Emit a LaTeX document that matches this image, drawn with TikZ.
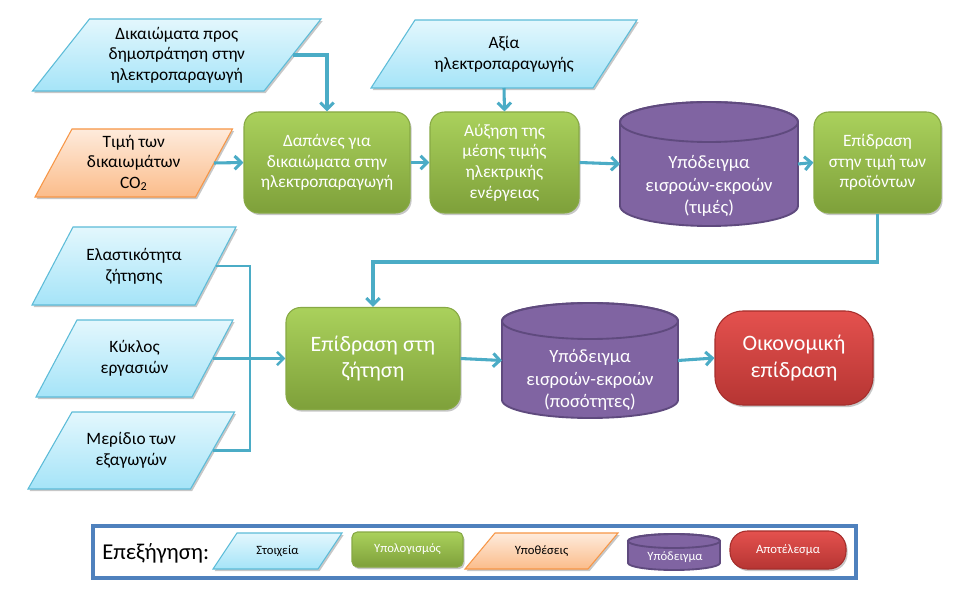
\documentclass[tikz,border=0pt]{standalone}
\usepackage{fontspec}
\setmainfont{Carlito}
\usetikzlibrary{arrows.meta,shadows,backgrounds}
\definecolor{connC}{HTML}{4BACC6}
\definecolor{paTop}{HTML}{E3F7FD}
\definecolor{paBot}{HTML}{A5E4F8}
\definecolor{paLine}{HTML}{5DBCD8}
\definecolor{orTop}{HTML}{FEEBDC}
\definecolor{orBot}{HTML}{FBBC8A}
\definecolor{orLine}{HTML}{F79646}
\definecolor{grTop}{HTML}{AAD15C}
\definecolor{grBot}{HTML}{7EA03A}
\definecolor{grLine}{HTML}{87A944}
\definecolor{cyFill}{HTML}{8064A2}
\definecolor{cyLine}{HTML}{5F4A7E}
\definecolor{rdTop}{HTML}{E4514E}
\definecolor{rdBot}{HTML}{B63533}
\definecolor{rdLine}{HTML}{A52E2C}
\definecolor{legLine}{HTML}{4F81BD}
\tikzset{
  conn/.style={draw=connC, line width=2.3pt},
  connL/.style={draw=connC, line width=1.9pt},
  arr/.style={-{Straight Barb[length=5pt,width=10pt]}},
  shad/.style={drop shadow={shadow xshift=1.2pt, shadow yshift=-1.6pt, opacity=0.22, fill=black}},
  blueP/.style={top color=paTop, bottom color=paBot, draw=paLine, line width=0.8pt, shad},
  oranP/.style={top color=orTop, bottom color=orBot, draw=orLine, line width=0.8pt, shad},
  ptxt/.style={font=\fontsize{13}{15.5}\selectfont, text=black},
  ltxt/.style={font=\fontsize{9.5}{11}\selectfont},
  gbox/.style={rectangle, rounded corners=11pt, draw=grLine, line width=0.8pt, top color=grTop, bottom color=grBot, text=white, align=center, inner sep=2pt, shad, font=\fontsize{13}{15.5}\selectfont},
  rbox/.style={rectangle, rounded corners=21pt, draw=rdLine, line width=0.8pt, top color=rdTop, bottom color=rdBot, text=white, align=center, inner sep=2pt, shad, font=\fontsize{16.5}{20}\selectfont},
  cylS/.style={fill=cyFill, draw=cyLine, line width=1.4pt},
  ctxt/.style={text=white, align=center, font=\fontsize{14}{17}\selectfont},
}
\newcommand\paral[9]{%
  \node[inner sep=0pt, outer sep=0pt, minimum width=#4*0.75pt, minimum height=#5*0.75pt, align=center, #8] (#1) at (#2,#3) {#9};
  \begin{scope}[on background layer]
    \path[#7] ([xshift=-#6*0.375pt]#1.south west) -- ([xshift=-#6*0.375pt]#1.south east) -- ([xshift=#6*0.375pt]#1.north east) -- ([xshift=#6*0.375pt]#1.north west) -- cycle;
  \end{scope}}
\newcommand\cyl[6]{%
  \node[inner sep=0pt, outer sep=0pt, minimum width={(#3-#2)*0.75pt}, minimum height={(#5-#4)*0.75pt}] (#1) at ({(#2+#3)/2},{(#4+#5)/2}) {};
  \path[cylS] ([yshift=-#6*0.75pt]#1.north west) -- ([yshift=#6*0.75pt]#1.south west) arc[start angle=180,end angle=360,x radius={(#3-#2)*0.375pt},y radius={#6*0.75pt}] -- ([yshift=-#6*0.75pt]#1.north east) arc[start angle=0,end angle=180,x radius={(#3-#2)*0.375pt},y radius={#6*0.75pt}] -- cycle;
  \draw[cylS, fill=none] ([yshift=-#6*0.75pt]#1.north) ellipse [x radius={(#3-#2)*0.375pt}, y radius={#6*0.75pt}];}
\begin{document}
\begin{tikzpicture}[x=0.75pt, y=-0.75pt]
\begin{scope}[on background layer]
  \fill[white] (0,0) rectangle (977,616);
\end{scope}
\useasboundingbox (0,0) rectangle (977,616);

% inputs
\paral{p1}{176.75}{55}{231.5}{72}{57}{blueP}{ptxt}{Δικαιώματα προς\\δημοπράτηση στην\\ηλεκτροπαραγωγή}
\paral{po}{133.75}{163}{160.5}{68}{37}{oranP}{ptxt}{Τιμή των\\δικαιωμάτων\\CO\textsubscript{2}}
\paral{p2}{504}{54}{222}{68}{44}{blueP}{ptxt}{Αξία\\ηλεκτροπαραγωγής}
\paral{p3}{134}{266}{163}{78}{41}{blueP}{ptxt}{Ελαστικότητα\\ζήτησης}
\paral{p4}{134.5}{358.5}{156}{77}{41}{blueP}{ptxt}{Κύκλος\\εργασιών}
\paral{p5}{131.25}{450.5}{162.5}{77}{44}{blueP}{ptxt}{Μερίδιο των\\εξαγωγών}

% calculations
\node[gbox, minimum width=166*0.75pt, minimum height=101*0.75pt] (g1) at (327,162.5) {Δαπάνες για\\δικαιώματα στην\\ηλεκτροπαραγωγή};
\node[gbox, minimum width=149*0.75pt, minimum height=101*0.75pt] (g2) at (504.5,162.5) {Αύξηση της\\μέσης τιμής\\ηλεκτρικής\\ενέργειας};
\node[gbox, minimum width=127*0.75pt, minimum height=101*0.75pt] (g3) at (877.5,162.5) {Επίδραση\\στην τιμή των\\προϊόντων};
\node[gbox, minimum width=174*0.75pt, minimum height=102*0.75pt, font=\fontsize{16.5}{20}\selectfont] (g4) at (373,358.5) {Επίδραση στη\\ζήτηση};

% models
\cyl{c1}{620}{798}{102}{226}{20}
\node[ctxt] (c1t) at (709,186) {Υπόδειγμα\\εισροών-εκροών\\(τιμές)};
\cyl{c2}{502}{678}{303}{418}{18}
\node[ctxt] (c2t) at (590,380) {Υπόδειγμα\\εισροών-εκροών\\(ποσότητες)};

% result
\node[rbox, minimum width=158*0.75pt, minimum height=94*0.75pt] (r) at (794,358) {Οικονομική\\επίδραση};

% connectors
\draw[conn,arr] (p1.east) -| (g1.north);
\draw[conn,arr] (po.east) -- (g1.west);
\draw[conn,arr] (p2.south) -- (g2.north);
\draw[conn,arr] (g1.east) -- (g2.west);
\draw[conn,arr] (g2.east) -- (c1.west);
\draw[conn,arr] (c1.east) -- (g3.west);
\coordinate (k) at (877.5,262);
\draw[conn,arr] (g3.south) -- (k) -| (g4.north);
\coordinate (j) at (250,358.5);
\draw[connL] (p3.east) -| (j);
\draw[connL] (p5.east) -| (j);
\draw[connL,arr] (p4.east) -- (g4.west);
\draw[conn,arr] (g4.east) -- (c2.west);
\draw[conn,arr] (c2.east) -- (r.west);

% legend
\node[draw=legLine, line width=2.3pt, inner sep=0pt, minimum width=763*0.75pt, minimum height=52*0.75pt] (leg) at (474.5,552) {};
\node[font=\fontsize{17}{20}\selectfont, anchor=west, inner sep=0pt] (legt) at (102,553) {Επεξήγηση:};
\paral{l1}{277.5}{551}{105}{36}{24}{blueP}{ltxt}{Στοιχεία}
\node[gbox, rounded corners=4pt, minimum width=111*0.75pt, minimum height=35*0.75pt, ltxt] (l2) at (407.5,549.5) {Υπολογισμός};
\paral{l3}{541.5}{551}{123}{36}{30}{oranP}{ltxt}{Υποθέσεις}
\cyl{l4}{628}{720}{534}{570}{7}
\node[ltxt, text=white] (l4t) at (675,557) {Υπόδειγμα};
\node[rbox, rounded corners=13pt, minimum width=116*0.75pt, minimum height=38*0.75pt, ltxt] (l5) at (788,550) {Αποτέλεσμα};
\end{tikzpicture}
\end{document}
